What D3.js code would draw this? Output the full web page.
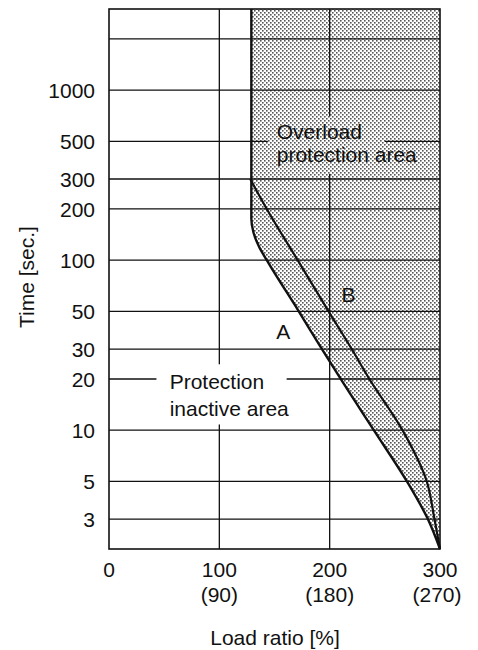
<!DOCTYPE html>
<html>
<head>
<meta charset="utf-8">
<script src="https://cdn.jsdelivr.net/npm/d3@7"></script>
<style>
  body { margin: 0; background: #fff; }
  text { font-family: "Liberation Sans", Arial, Helvetica, sans-serif; fill: #111; }
</style>
</head>
<body>
<div id="chart"></div>
<script>
const width = 478, height = 650;
const margin = ({top: 9, right: 38, bottom: 101, left: 109});

// axis ticks
const xTicks = [0, 100, 200, 300];
const xSubLabels = ["", "(90)", "(180)", "(270)"];
const yTicks = [3, 5, 10, 20, 30, 50, 100, 200, 300, 500, 1000];
const yGridExtra = [2000];

// curve A : lower limit (protection starts), load % vs time s
const curveALoad = [129, 129, 131, 136, 143, 172, 193, 210, 240, 270, 289, 300];
const curveATime = [3000, 175, 145, 120, 100, 50, 30, 20, 10, 5, 3, 2];
// curve B : upper limit
const curveBLoad = [128, 143, 171, 199, 220, 236, 266, 288, 295, 300];
const curveBTime = [300, 200, 100, 50, 30, 20, 10, 5, 3, 2];

const curveA = curveALoad.map((d, i) => ({load: d, time: curveATime[i]}));
const curveB = curveBLoad.map((d, i) => ({load: d, time: curveBTime[i]}));

const svg = d3.select("#chart")
  .append("svg")
  .attr("width", width)
  .attr("height", height);

let x = d3.scaleLinear()
  .domain([0, 300])
  .range([margin.left, width - margin.right]);

let y = d3.scaleLog()
  .domain([2, 3000])
  .range([height - margin.bottom, margin.top]);

// halftone dots
const pat = svg.append("defs").append("pattern")
  .attr("id", "dots")
  .attr("patternUnits", "userSpaceOnUse")
  .attr("width", 4).attr("height", 4);
pat.append("rect").attr("width", 4).attr("height", 4).attr("fill", "#fff");
pat.append("rect").attr("x", 0).attr("y", 0).attr("width", 1.6).attr("height", 1.6).attr("fill", "#555");
pat.append("rect").attr("x", 2).attr("y", 2).attr("width", 1.6).attr("height", 1.6).attr("fill", "#555");

// shaded overload area (right of curve A)
let area = d3.area()
  .curve(d3.curveMonotoneY)
  .y(d => y(d.time))
  .x0(d => x(d.load))
  .x1(x(300));

svg.append("path")
  .datum(curveA)
  .attr("fill", "url(#dots)")
  .attr("d", area);

// grid
let grid = svg.append("g").attr("stroke", "#111").attr("stroke-width", 1.3);

grid.selectAll(".hl")
  .data(yTicks.concat(yGridExtra))
  .join("line")
  .attr("x1", x(0)).attr("x2", x(300))
  .attr("y1", d => y(d)).attr("y2", d => y(d));

grid.selectAll(".vl")
  .data([100, 200])
  .join("line")
  .attr("x1", d => x(d)).attr("x2", d => x(d))
  .attr("y1", y(3000)).attr("y2", y(2));

// boxes behind the area labels (break the grid lines)
svg.append("rect")
  .attr("x", x(144)).attr("width", x(250) - x(144))
  .attr("y", y(700)).attr("height", y(322) - y(700))
  .attr("fill", "url(#dots)");

svg.append("rect")
  .attr("x", x(43)).attr("width", x(161) - x(43))
  .attr("y", y(24.4)).attr("height", y(10.8) - y(24.4))
  .attr("fill", "#fff");

// frame
svg.append("rect")
  .attr("x", x(0)).attr("y", y(3000))
  .attr("width", x(300) - x(0)).attr("height", y(2) - y(3000))
  .attr("fill", "none")
  .attr("stroke", "#111")
  .attr("stroke-width", 1.6);

// curves
let line = d3.line()
  .curve(d3.curveMonotoneY)
  .x(d => x(d.load))
  .y(d => y(d.time));

svg.append("path")
  .datum(curveA)
  .attr("fill", "none")
  .attr("stroke", "#111")
  .attr("stroke-width", 2.4)
  .attr("d", line);

svg.append("path")
  .datum(curveB)
  .attr("fill", "none")
  .attr("stroke", "#111")
  .attr("stroke-width", 2.2)
  .attr("d", line);

// axis labels
svg.append("g")
  .selectAll("text")
  .data(yTicks)
  .join("text")
  .attr("x", 95)
  .attr("y", d => y(d))
  .attr("dy", "0.36em")
  .attr("text-anchor", "end")
  .attr("font-size", 21)
  .text(d => d);

let xl = svg.append("g")
  .selectAll("g")
  .data(xTicks)
  .join("g")
  .attr("transform", d => `translate(${x(d)},0)`);

xl.append("text")
  .attr("y", 577)
  .attr("text-anchor", "middle")
  .attr("font-size", 21)
  .text(d => d);

xl.append("text")
  .attr("y", 602)
  .attr("x", (d, i) => i == 3 ? -3 : 0)
  .attr("text-anchor", "middle")
  .attr("font-size", 21)
  .text((d, i) => xSubLabels[i]);

svg.append("text")
  .attr("x", 275)
  .attr("y", 645)
  .attr("text-anchor", "middle")
  .attr("font-size", 21)
  .text("Load ratio [%]");

svg.append("text")
  .attr("transform", "translate(34,277) rotate(-90)")
  .attr("text-anchor", "middle")
  .attr("font-size", 21)
  .text("Time [sec.]");

// area labels
svg.append("text")
  .attr("x", x(152)).attr("y", y(1000) + 49)
  .attr("font-size", 21)
  .text("Overload");
svg.append("text")
  .attr("x", x(152)).attr("y", y(1000) + 72)
  .attr("font-size", 21)
  .text("protection area");

svg.append("text")
  .attr("x", x(55)).attr("y", y(10) - 41)
  .attr("font-size", 21)
  .text("Protection");
svg.append("text")
  .attr("x", x(55)).attr("y", y(10) - 14)
  .attr("font-size", 21)
  .text("inactive area");

svg.append("text")
  .attr("x", x(158)).attr("y", y(34.6))
  .attr("text-anchor", "middle")
  .attr("font-size", 21)
  .text("A");
svg.append("text")
  .attr("x", x(217)).attr("y", y(57))
  .attr("text-anchor", "middle")
  .attr("font-size", 21)
  .text("B");
</script>
</body>
</html>
